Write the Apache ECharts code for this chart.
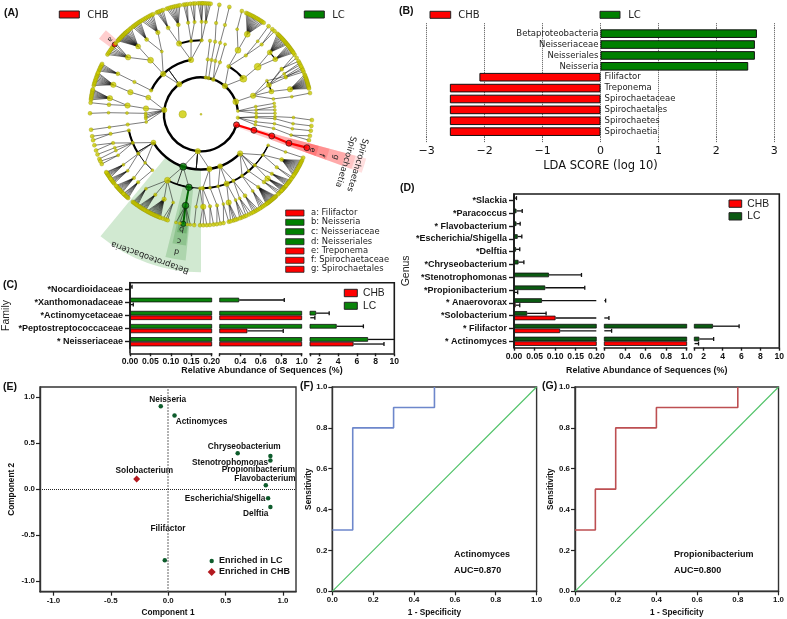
<!DOCTYPE html>
<html><head><meta charset="utf-8">
<style>html,body{margin:0;padding:0;background:#fff}#c{width:787px;height:619px}</style>
<script src="https://cdn.jsdelivr.net/npm/echarts@6/dist/echarts.min.js"></script>
</head><body><div id="c"></div>
<script>
// ---------- Panel A: cladogram. Node = [angle, size, children, hue]; plain number = leaf angle.
const ringRadii = [37, 55.3, 74, 92.5, 111];
const rootNodes = [[18.3, 180, 7.5], [0, 0, 2]];
const cladeTree = [
 [340,6,[[340.4,5.5,[
   [342,5,[[344.3,5.5,[339,339.8,340.6,341.2,341.8,342.4,343,343.6,344.2,344.8,345.4,346,346.6]]]],
   [348,3,[[349,3,[349]]]],
   [336.7,5,[[331,3.5,[327.5,329.5]],[330.4,3,[331.5]],[334,3,[332.5,333.5]],[336.5,3.5,[335.5,337.5]]]],
   [333,3,[[335.8,3,[334.5,336.5]]]]
 ]]]],
 [310.3,5.5,[
   [320,7,[[320,7,[[318,5,[313.5,314.3,315,315.7,316.4,317,317.7,318.3,319,319.7,320.3,321]],[323.4,5,[321.5,322.2,322.9,323.6,324.3,325,325.7,326.4]]]]]],
   [300,4,[[300,6,[[300,6,[294,294.8,295.6,296.4,297.2,298,298.8,299.6,300.4,301.2,302,302.8,303.6,304.4]],[293,3,[291.6]]]],[307.3,3.5,[[307.8,3,[307.5]],[311,3.5,[310,311.5]]]]]]
 ]],
 [277.3,3.5,[[277,3.5,[[277,3.5]]]]],
 [282,3.5,[[281,3.5,[[281,3.5,[[279.4,3.5,[279.5]]]]]]]],
 [289.4,4,[[285,3.5,[[285,3.5,[[285,3.5,[284.8]]]]]],[290,3.5,[[289,3]]]]],
 [234,5.5,[
   [205.6,3.5,[[205.9,3.5,[[206,4,[203,203.8,204.6,205.4,206.2,207]]]]]],
   [226.9,5.5,[
     [227,6,[[227.2,5,[221.5,222,222.5,223,223.5,224,224.5,225,225.5,226,226.5,227,227.5,228.2,229,230,231]],[218,5.5,[212.6,213.5,214.5,215.5,216.5,217.5,[218.9,5,null,'r'],219.8]]]],
     [238,3,[[234,4,[232,232.8,233.6,234.4,235.2,236,236.8]],[242.2,4.5,[237.5,238.5,239.5,240.5,241.5,242.5,243.5,244.4]]]]
   ]],
   [259.6,5.5,[
     [252.8,5.5,[[249.2,4,[246.5,247.3,248,249,250]],[255.8,4,[252,253,254,255,256,257,258,259]]]],
     [262.3,3.5,[[262,3.5,[261,262,263]],[266,3.5,[264.5,266,267]]]],
     [270.5,3.5,[[270.4,3.5,[268.5,269.5,270.5,271]],[273,3.5,[272,273,274,275]]]]
   ]]
 ]],
 [186.7,5.5,[
   [197.6,5,[[197.4,5.5,[[198.6,5.5,[195,195.8,196.6,197.4,198.2,199,199.8,200.6,201.4,202]]]]]],
   [186,5.5,[[186.8,5.5,[[190,5.5,[187.5,188.3,189,189.7,190.4,191.1,191.8,192.5,193]],[186,4,[186]]]]]],
   [181,3,[[181,3,[[181,3,[180.5]]]]]],
   [179,3],[177,3],[175.5,3],
   [172,3,[[172,3.5,[[172,3,[172]]]]]]
 ]],
 [95,5.5,[
   [149.3,5,[
     [167.4,3.5,[[167.8,3.5,[168.6,166.5]]]],
     [157.3,3.5,[[161.9,3.5,[163.8,161]],[158.8,3,[158.8]],[156.9,3,[156.3]],[153.7,3,[153.4,155]]]],
     [147.9,3.5,[[147,3,[145,145.7,146.4,147,147.6,148.2,148.6]],[142.4,3,[141.5,142.2,142.8,143.4,144,144.6]]]],
     [139,3,[[136.5,3.5,[135.2,135.8,136.4,137,137.6,138.2,138.8,139.4,140]]]],
     [131,3,[[132.8,3.5,[131,131.6,132.2,132.8,133.4,134,134.4]]]]
   ]],
   [108.8,7,[
     [117,6,[[126.5,3,[127.9,127.3,126.7,126.1,125.5,124.9]],[119.6,3.5,[124.2,123.6,123,122.4,121.8,121.2,120.6,120]],[113.5,4.5,[119.2,118.6,118,117.4,116.8,116.2,115.6,115,114.4,113.8,113.2,112.6,112,111.4]],[107.5,3,[110,108.5,107.5]]]],
     [99.4,6.5,[[99.6,6.5,[[99.2,5.5,null,'G'],[103,3],[101,3],[97,3],[95.5,3]],'G']],'g'],
     [90.8,3,[[89,3,[90.5]],[93,3,[93.5]]]]
   ],'g'],
   [81.2,5.5,[
     [88.7,4,[[88.6,5.5,[88.8,87]],[84.4,3.5,[85.4,83.5]]]],
     [83,3,[[80,3.5,[81.8,80]]]]
   ]],
   [69.7,5,[
     [76.6,3,[[76,3,[78.3,75.5]]]],
     [69.7,5.5,[[72.6,5.5,[73,74.5,71,72]],[68,3,[68.4,67,69.5]]]],
     [64,3.5,[[65.3,3,[64.5,66,63]],[61.6,4,[61,62,60,59]]]]
   ]],
   [45,5.5,[
     [56.3,3.5,[[51.8,3.5,[47.5,48,48.5,49,49.5,50,50.5,51,51.5,52,52.5,53,53.5,54]],[56,3,[55,56,57,58]]]],
     [50,3,[[47,4,[44,45,46]]]],
     [43.4,3.5,[[44,5.5,[40.5,41,41.5,42,42.5,43,43.5]],[40,3.5,[36.5,37.2,37.9,38.6,39.3,40]]]],
     [33.3,3,[[35,3.5,[34.5,35.5]],[29.3,4,[24.5,25.2,25.9,26.6,27.3,28,28.7,29.4,30.1,30.8,31.5,32.2,32.9,33.6]]]],
     [24.8,3,[[24,3,[23]]]]
   ]]
 ]],
 [354.8,3,[[352,3,[[351.5,3]]],[355.5,3,[[354,3],[356.6,3]]],[359,3,[[359.2,3]]]]],
 [5.2,3.5,[[2.4,3,[[1.8,3,[[2,3,[3]]]]]],[3.4,3,[[3.4,3,[[5.8,3,[6]]]]]],[7.8,3,[[7.3,3,[[9,3,[8.5]]]]]],[11,3,[[11,3,[[13,3,[13.5,11.2]]]]]]]],
 [16.6,6,[[16.8,6,[[17,6,[[18.2,6,[[17.5,6,null,'R']],'R']],'R']],'R']],'R']
];
// bold connecting arcs: [radius, fromAngle, toAngle, width]
const cladeArcs = [[37,17,353,2.4],[55.3,205.6,259.6,2.4],[55.3,45,149.3,2.4],[55.3,300,320,2],[74,147,168,2],[74,96,117,1.6],[74,43,88.7,2],[74,25,43,1.4],[74,252.8,271,2],[74,333,342,1.4],[92.5,318,323,1.2]];
// highlight sectors: [inner, outer, fromAngle, toAngle, colour, alpha]
const cladeSectors = [
 [55.3,158,90,129.5,'#2e9a2e',.22],[74,147,96,104,'#2e8b2e',.22],[92.5,132,96.5,102.5,'#2e8b2e',.24],[111,120,97,101.5,'#2e8b2e',.3],
 [37,171,15,20,'#ff2020',.14],[55.3,160,15,20,'#ff2020',.14],[74,150,15,20,'#ff2020',.16],[92.5,133,15,20,'#ff2020',.18],[111,122,15,20,'#ff2020',.2],
 [111,127,216.5,221.5,'#ff2020',.22]
];
const keyLetters = ['a: Filifactor','b: Neisseria','c: Neisseriaceae','d: Neisseriales','e: Treponema','f: Spirochaetaceae','g: Spirochaetales'];
const keyColours = ['#ff0000','#008000','#008000','#008000','#ff0000','#ff0000','#ff0000'];

// ---------- Panel B
const ldaNames = ['Spirochaetia','Spirochaetes','Spirochaetales','Spirochaetaceae','Treponema','Filifactor','Neisseria','Neisseriales','Neisseriaceae','Betaproteobacteria'];
const ldaCHB = [-2.6,-2.6,-2.6,-2.6,-2.6,-2.09,null,null,null,null];
const ldaLC = [null,null,null,null,null,null,2.55,2.665,2.665,2.7];

// ---------- Panel C
const familyNames = ['* Neisseriaceae','*Peptostreptococcaceae','*Actinomycetaceae','*Xanthomonadaceae','*Nocardioidaceae'];
const familyCHB = [5.65,0.47,1.03,0.001,0];
const familyCHBUpper = [8.9,0.82,1.52,0.008,0];
const familyLC = [7.2,3.85,1.65,0.39,0.001];
const familyLCUpper = [10.2,6.7,3.05,0.83,0.005];

// ---------- Panel D
const genusNames = ['* Actinomyces','* Filifactor','*Solobacterium','* Anaerovorax','*Propionibacterium','*Stenotrophomonas','*Chryseobacterium','*Delftia','*Escherichia/Shigella','* Flavobacterium','*Paracoccus','*Slackia'];
const genusCHB = [1.02,0.112,0.101,0.004,0.002,0,0,0,0,0,0,0];
const genusCHBUpper = [1.45,0.271,0.245,0.014,0.009,0,0,0,0,0,0,0];
const genusLC = [1.53,2.98,0.032,0.068,0.076,0.085,0.011,0.005,0.009,0.006,0.006,0.001];
const genusLCUpper = [3.05,5.75,0.078,0.213,0.172,0.164,0.024,0.014,0.019,0.015,0.02,0.006];

const brokenRanges = [[0,0.2],[0.2,1],[1,10]];
const brokenTicks = [[0,0.05,0.1,0.15,0.2],[0.2,0.4,0.6,0.8,1],[1,2,4,6,8,10]];
const brokenLabels = [[0,0.05,0.1,0.15,0.2],[0.4,0.6,0.8,1],[2,4,6,8,10]];

// ---------- Panel E
const pcaNames = ['Neisseria','Actinomyces','Chryseobacterium','Stenotrophomonas','Propionibacterium','Flavobacterium','Escherichia/Shigella','Delftia','Filifactor','Solobacterium'];
const pcaX = [-0.065,0.055,0.605,0.89,0.89,0.85,0.87,0.89,-0.03,-0.275];
const pcaY = [0.9,0.8,0.39,0.31,0.36,0.04,-0.1,-0.195,-0.775,0.11];
const pcaLabelNudge = [[7,-7],[27,6.6],[6.6,-6.4],[-40.4,2.2],[-12,13.8],[-0.8,-6.3],[-43,0.5],[-14.7,7],[3.2,-31.6],[7.7,-8]];

// ---------- Panels F, G
const rocActinomyces = [[0,0.3],[0.1,0.3],[0.1,0.8],[0.3,0.8],[0.3,0.9],[0.5,0.9],[0.5,1]];
const rocPropioni = [[0,0.3],[0.1,0.3],[0.1,0.5],[0.2,0.5],[0.2,0.8],[0.4,0.8],[0.4,0.9],[0.8,0.9],[0.8,1]];
const rocDiagonal = [[0,0],[1,1]];
const unitTicks = [0,0.2,0.4,0.6,0.8,1];
const pcaTicks = [-1,-0.5,0,0.5,1];

// ---------- fonts / colours
const ARIAL = '"Liberation Sans", Arial, sans-serif';
const DEJAVU = '"DejaVu Sans", sans-serif';
const RED = '#ff0000', GREEN = '#008000', DKGREEN = '#0b5a12';
const AXC = '#1a1a1a';

// ---------- flatten cladogram; far-off children hang from an arc on their own ring
const edges = [], nodes = [], thinArcs = [];
const hueFill = {R:RED, r:RED, G:'#007a00', g:'#007a00'};
const FAR = 16;
function walk(item, level, parent){
  const it = typeof item === 'number' ? [item, 4] : item;
  const [a, size, kids, hue] = it;
  const r = ringRadii[level];
  if (parent) {
    if (Math.abs(a - parent[1]) > FAR) {
      edges.push([parent[0], parent[1], r, parent[1], 0.8, '#111']);
      thinArcs.push([r, Math.min(a, parent[1]), Math.max(a, parent[1]), 1]);
    } else {
      edges.push([parent[0], parent[1], r, a, hue === 'R' ? 2.2 : hue === 'G' ? 2 : 0.55, hue === 'R' ? RED : hue === 'G' ? '#006400' : '#111']);
    }
  }
  nodes.push({value:[r, a], symbolSize:size, itemStyle:{color:hueFill[hue] || '#cccc00', borderColor: hue ? '#111' : '#8a8a00', borderWidth: hue ? 0.8 : 0.4}});
  (kids || []).forEach(k => walk(k, level + 1, [r, a]));
}
cladeTree.forEach(t => walk(t, 0, null));
rootNodes.forEach(n => nodes.push({value:[n[0], n[1]], symbolSize:n[2], itemStyle:{color:'#cccc00', borderColor:'#8a8a00', borderWidth:.4}}));
const allArcs = cladeArcs.concat(thinArcs);

// ---------- containers
const grid = [], xAxis = [], yAxis = [], series = [];
function addGrid(l, t, w, h){ grid.push({left:l, top:t, width:w, height:h, containLabel:false}); return grid.length - 1; }

// --- Panel B
{
  const g = addGrid(426.7, 28.2, 347.6, 108.9);
  const xi = xAxis.length, yi = yAxis.length;
  const dot = {type:'dotted', color:'#555', width:1};
  xAxis.push({type:'value', gridIndex:g, min:-3, max:3, interval:1, position:'bottom',
    axisLine:{show:false}, axisTick:{show:true, length:5, inside:false, lineStyle:dot},
    splitLine:{show:true, lineStyle:dot},
    axisLabel:{margin:9, fontFamily:DEJAVU, fontSize:11, color:'#111', formatter:v => String(v).replace('-', '\u2212')},
    name:'LDA SCORE (log 10)', nameLocation:'middle', nameGap:23, nameTextStyle:{fontFamily:DEJAVU, fontSize:11.5, color:'#111'}});
  xAxis.push({type:'value', gridIndex:g, min:-3, max:3, interval:1, position:'top', axisLine:{show:false},
    axisTick:{show:true, length:5, lineStyle:dot}, axisLabel:{show:false}, splitLine:{show:false}});
  yAxis.push({type:'category', gridIndex:g, data:ldaNames, show:false});
  const common = {type:'bar', xAxisIndex:xi, yAxisIndex:yi, barWidth:8.6, barGap:'-100%', z:3};
  series.push({...common, name:'CHB', data:ldaCHB, itemStyle:{color:RED, borderColor:'#111', borderWidth:1},
    label:{show:true, position:'right', distance:4, formatter:'{b}', fontFamily:DEJAVU, fontSize:8.5, color:'#222'}});
  series.push({...common, name:'LC', data:ldaLC, itemStyle:{color:GREEN, borderColor:'#111', borderWidth:1},
    label:{show:true, position:'left', distance:2, formatter:'{b}', fontFamily:DEJAVU, fontSize:8.5, color:'#222'}});
}

// --- Broken panels C, D
function brokenPanel(cfg){
  const {segs, top, height, names, chb, chbU, lc, lcU, lcColor, xOffset, yName, yNameGap} = cfg;
  segs.forEach((seg, s) => {
    const g = addGrid(seg[0], top, seg[1] - seg[0], height);
    const xi = xAxis.length, yi = yAxis.length;
    const [lo, hi] = brokenRanges[s];
    xAxis.push({type:'value', gridIndex:g, min:lo, max:hi, position:'bottom', offset:xOffset,
      axisLine:{show:true, onZero:false, lineStyle:{color:AXC, width:1.6}},
      axisTick:{show:true, length:3, lineStyle:{color:AXC, width:1.4}, customValues:brokenTicks[s]},
      axisLabel:{show:true, margin:4, customValues:brokenLabels[s], fontFamily:ARIAL, fontWeight:'bold', fontSize:8.6, color:'#111',
        formatter:v => s === 2 ? String(v) : (s === 0 ? v.toFixed(2) : v.toFixed(1))},
      splitLine:{show:false}});
    yAxis.push({type:'category', gridIndex:g, data:names, show:s === 0,
      axisLine:{show:s === 0, lineStyle:{color:AXC, width:1.6}},
      axisTick:{show:s === 0, alignWithLabel:true, length:5, lineStyle:{color:AXC, width:1.4}},
      axisLabel:{margin:7, fontFamily:ARIAL, fontWeight:'bold', fontSize:9, color:'#111'},
      name:yName, nameLocation:'middle', nameGap:yNameGap, nameTextStyle:{fontFamily:ARIAL, fontSize:10.5, color:'#222'}});
    const clip = arr => arr.map(v => v > lo ? v : null);
    const bar = {type:'bar', xAxisIndex:xi, yAxisIndex:yi, barWidth:4.6, barGap:'0%', z:3};
    series.push({...bar, name:'LC', data:clip(lc), itemStyle:{color:lcColor, borderColor:'#111', borderWidth:.8}});
    series.push({...bar, name:'CHB', data:clip(chb), itemStyle:{color:RED, borderColor:'#111', borderWidth:.8}});
    const rows = [];
    names.forEach((n, i) => {
      if (chbU[i] > chb[i]) rows.push([chbU[i], i, chb[i], 2.3]);
      if (lcU[i] > lc[i]) rows.push([lcU[i], i, lc[i], -2.3]);
    });
    series.push({type:'custom', xAxisIndex:xi, yAxisIndex:yi, z:4, silent:true, data:rows, encode:{x:0, y:1},
      renderItem:(p, api) => {
        const up = api.value(0), cat = api.value(1), mean = api.value(2), off = api.value(3);
        const from = Math.max(mean, lo), to = Math.min(up, hi);
        if (from >= to) return null;
        const a = api.coord([from, cat]), b = api.coord([to, cat]);
        const st = {stroke:'#111', lineWidth:1.3, fill:null};
        const kids = [{type:'line', shape:{x1:a[0], y1:a[1] + off, x2:b[0], y2:b[1] + off}, style:st}];
        if (up <= hi) kids.push({type:'line', shape:{x1:b[0], y1:b[1] + off - 2, x2:b[0], y2:b[1] + off + 2}, style:st});
        return {type:'group', children:kids};
      }});
  });
}
brokenPanel({segs:[[130,211.7],[219.7,301.7],[310,394.3]], top:282.6, height:65.7, names:familyNames,
  chb:familyCHB, chbU:familyCHBUpper, lc:familyLC, lcU:familyLCUpper, lcColor:'#0a840a', xOffset:5, yName:'Family', yNameGap:118});
brokenPanel({segs:[[514,596.3],[604.3,686.7],[694.3,779.3]], top:194, height:153.7, names:genusNames,
  chb:genusCHB, chbU:genusCHBUpper, lc:genusLC, lcU:genusLCUpper, lcColor:DKGREEN, xOffset:0, yName:'Genus', yNameGap:101});

// --- Boxed axis helper for E, F, G
function boxAxes(g, xMin, xMax, yMin, yMax, ticksX, ticksY, xName, yName, xFmt, yFmt, xGap, yGap){
  const lbl = {fontFamily:ARIAL, fontWeight:'bold', fontSize:7.9, color:'#111'};
  const nm = {fontFamily:ARIAL, fontWeight:'bold', fontSize:8.3, color:'#111'};
  xAxis.push({type:'value', gridIndex:g, min:xMin, max:xMax, position:'bottom',
    axisLine:{show:true, onZero:false, lineStyle:{color:'#333', width:1.4}},
    axisTick:{show:true, length:4, customValues:ticksX, lineStyle:{color:'#222', width:1.2}},
    axisLabel:{customValues:ticksX, margin:5, formatter:xFmt, ...lbl}, splitLine:{show:false},
    name:xName, nameLocation:'middle', nameGap:xGap, nameTextStyle:nm});
  yAxis.push({type:'value', gridIndex:g, min:yMin, max:yMax, position:'left',
    axisLine:{show:true, onZero:false, lineStyle:{color:'#333', width:1.4}},
    axisTick:{show:true, length:4, customValues:ticksY, lineStyle:{color:'#222', width:1.2}},
    axisLabel:{customValues:ticksY, margin:5, formatter:yFmt, ...lbl}, splitLine:{show:false},
    name:yName, nameLocation:'middle', nameGap:yGap, nameTextStyle:nm});
}
const f1 = v => v.toFixed(1);

// --- Panel E
{
  const g = grid.length;
  grid.push({left:40, top:387, width:256, height:204.7, show:true, borderColor:'#333', borderWidth:1.4, backgroundColor:'transparent'});
  const xi = xAxis.length, yi = yAxis.length;
  boxAxes(g, -1.117, 1.113, -1.116, 1.109, pcaTicks, pcaTicks, 'Component 1', 'Component 2', f1, f1, 17, 24);
  const pts = pcaNames.map((n, i) => ({
    name:n, value:[pcaX[i], pcaY[i]],
    symbol:n === 'Solobacterium' ? 'diamond' : 'circle',
    symbolSize:n === 'Solobacterium' ? 7 : 4.5,
    itemStyle:{color:n === 'Solobacterium' ? '#b3191f' : '#0e5c2c', opacity:1},
    label:{show:true, position:'inside', formatter:'{b}', offset:pcaLabelNudge[i], fontFamily:ARIAL, fontWeight:'bold', fontSize:8.3, color:'#111'}
  }));
  series.push({type:'scatter', xAxisIndex:xi, yAxisIndex:yi, data:pts, z:4, silent:true,
    markLine:{silent:true, symbol:'none', label:{show:false}, animation:false,
      data:[{xAxis:0, lineStyle:{type:'dotted', color:'#777', width:1.5}}, {yAxis:0, lineStyle:{type:'dotted', color:'#222', width:1}}]}});
}
// --- Panels F, G
function rocPanel(left, curve, colour){
  const g = grid.length;
  grid.push({left:left, top:387, width:204.3, height:204.3, show:true, borderColor:'#333', borderWidth:1.4, backgroundColor:'transparent'});
  const xi = xAxis.length, yi = yAxis.length;
  boxAxes(g, 0, 1, 0, 1, unitTicks, unitTicks, '1 - Specificity', 'Sensitivity', f1, f1, 17, 20);
  series.push({type:'line', xAxisIndex:xi, yAxisIndex:yi, data:rocDiagonal, symbol:'none', lineStyle:{color:'#4fc267', width:1.1}, silent:true});
  series.push({type:'line', xAxisIndex:xi, yAxisIndex:yi, data:curve, symbol:'none', lineStyle:{color:colour, width:1.6}, silent:true, z:3});
}
rocPanel(332.3, rocActinomyces, '#6d87cb');
rocPanel(575, rocPropioni, '#bd4f52');

// --- Panel A series
const polar = {center:[201, 114.3], radius:[0, 175]};
const angleAxis = {min:0, max:360, startAngle:0, clockwise:true, show:false};
const radiusAxis = {min:0, max:175, show:false};
series.push({type:'custom', coordinateSystem:'polar', data:cladeSectors.map(s => s.slice(0, 4)), silent:true, z:1,
  renderItem:(p, api) => {
    const s = cladeSectors[p.dataIndex], c = api.coord([0, 0]);
    return {type:'sector', shape:{cx:c[0], cy:c[1], r0:s[0], r:s[1], startAngle:s[2] * Math.PI / 180, endAngle:s[3] * Math.PI / 180, clockwise:true},
      style:{fill:s[4], opacity:s[5]}};
  }});
series.push({type:'custom', coordinateSystem:'polar', data:allArcs.map(s => s.slice(0, 3)), silent:true, z:2,
  renderItem:(p, api) => {
    const s = allArcs[p.dataIndex], c = api.coord([0, 0]);
    return {type:'arc', shape:{cx:c[0], cy:c[1], r:s[0], startAngle:s[1] * Math.PI / 180, endAngle:s[2] * Math.PI / 180, clockwise:true},
      style:{stroke:'#000', lineWidth:s[3], fill:null}};
  }});
series.push({type:'custom', coordinateSystem:'polar', data:edges.map(e => e.slice(0, 4)), silent:true, z:3,
  renderItem:(p, api) => {
    const e = edges[p.dataIndex], a = api.coord([e[0], e[1]]), b = api.coord([e[2], e[3]]);
    return {type:'line', shape:{x1:a[0], y1:a[1], x2:b[0], y2:b[1]}, style:{stroke:e[5], lineWidth:e[4], fill:null}};
  }});
series.push({type:'scatter', coordinateSystem:'polar', data:nodes, silent:true, z:5});

// --- graphic: legends, panel letters, free labels
const gfx = [];
function T(x, y, text, o = {}){
  gfx.push({type:'text', x, y, rotation:(o.rot || 0) * Math.PI / 180, z:20, silent:true,
    style:{text, fontFamily:o.ff || DEJAVU, fontSize:o.fs || 10, fontWeight:o.fw || 'normal', fill:o.c || '#222',
      align:o.al || 'left', verticalAlign:'middle'}});
}
function R(x, y, w, h, fill, bw = 1){
  gfx.push({type:'rect', shape:{x, y, width:w, height:h}, z:20, silent:true, style:{fill, stroke:'#222', lineWidth:bw}});
}
[['(A)',4,13],['(B)',399,11],['(C)',3,285],['(D)',400,188],['(E)',3,387],['(F)',300,386],['(G)',542,386]]
  .forEach(l => T(l[1], l[2], l[0], {ff:ARIAL, fw:'bold', fs:10.5, c:'#111'}));
R(59.3, 11, 20, 7, RED); T(87.3, 15, 'CHB', {fs:10});
R(304.3, 11, 20, 7, GREEN); T(332.3, 15, 'LC', {fs:10});
keyLetters.forEach((t, i) => {
  const ys = [213, 222.3, 231.7, 241.7, 251, 260.3, 269.3];
  R(285.7, ys[i] - 3, 18.3, 6, keyColours[i], .8);
  T(311, ys[i], t, {fs:8.4});
});
T(357.3, 165, 'Spirochaetes', {fs:8.5, rot:-107, al:'center'});
T(345.7, 161.7, 'Spirochaetia', {fs:8.5, rot:-107, al:'center'});
[['e',312.3,150],['f',321.7,155],['g',335.7,157.3]].forEach(l => T(l[1], l[2], l[0], {fs:8, rot:-107, al:'center'}));
[['b',181.7,229],['c',179,240.7],['d',176.7,251.7]].forEach(l => T(l[1], l[2], l[0], {fs:8, rot:-190, al:'center'}));
T(110, 39.3, 'a', {fs:7, rot:-129, al:'center'});
T(150, 257.3, 'Betaproteobacteria', {fs:8.5, rot:160.5, al:'center'});
R(430, 11.3, 20.7, 7, RED); T(458.3, 15, 'CHB', {fs:10});
R(600, 11.3, 20, 7, GREEN); T(628.3, 15, 'LC', {fs:10});
// C frame, legend, axis title
gfx.push({type:'polyline', z:6, silent:true, shape:{points:[[130,353.3],[130,282.8],[394.3,282.8],[394.3,353.3]]}, style:{stroke:AXC, lineWidth:1.6, fill:null}});
R(344.3, 289.3, 13, 7.4, RED); T(363, 293, 'CHB', {ff:ARIAL, fs:10.3});
R(344.3, 302.3, 13, 7, '#0a840a'); T(363, 306, 'LC', {ff:ARIAL, fs:10.3});
T(262, 370.7, 'Relative Abundance of Sequences (%)', {ff:ARIAL, fw:'bold', fs:8.9, al:'center', c:'#111'});
// D frame, legend, axis title
gfx.push({type:'polyline', z:6, silent:true, shape:{points:[[514,347.7],[514,194],[779.3,194],[779.3,347.7]]}, style:{stroke:AXC, lineWidth:1.6, fill:null}});
R(729, 200, 12.7, 7.3, RED); T(747.3, 204, 'CHB', {ff:ARIAL, fs:10.3});
R(729, 212.7, 12.7, 7.3, DKGREEN); T(747.3, 216.5, 'LC', {ff:ARIAL, fs:10.3});
T(646.7, 371, 'Relative Abundance of Sequences (%)', {ff:ARIAL, fw:'bold', fs:8.9, al:'center', c:'#111'});
// E legend key
gfx.push({type:'circle', z:20, silent:true, shape:{cx:211.7, cy:561, r:2.2}, style:{fill:'#0e5c2c'}});
gfx.push({type:'polygon', z:20, silent:true, shape:{points:[[211.7,568],[215.7,572],[211.7,576],[207.7,572]]}, style:{fill:'#b3191f'}});
T(219, 560.5, 'Enriched in LC', {ff:ARIAL, fw:'bold', fs:9, c:'#111'});
T(219, 572, 'Enriched in CHB', {ff:ARIAL, fw:'bold', fs:9, c:'#111'});
// ROC annotation
T(454, 554.7, 'Actinomyces', {ff:ARIAL, fw:'bold', fs:9, c:'#111'});
T(454, 570.7, 'AUC=0.870', {ff:ARIAL, fw:'bold', fs:9, c:'#111'});
T(674, 554.7, 'Propionibacterium', {ff:ARIAL, fw:'bold', fs:9, c:'#111'});
T(674, 570.7, 'AUC=0.800', {ff:ARIAL, fw:'bold', fs:9, c:'#111'});

const chart = echarts.init(document.getElementById('c'), null, {renderer:'canvas'});
chart.setOption({animation:false, backgroundColor:'#fff', grid, xAxis, yAxis, polar, angleAxis, radiusAxis, series, graphic:{elements:gfx}, tooltip:{show:false}});
</script></body></html>
